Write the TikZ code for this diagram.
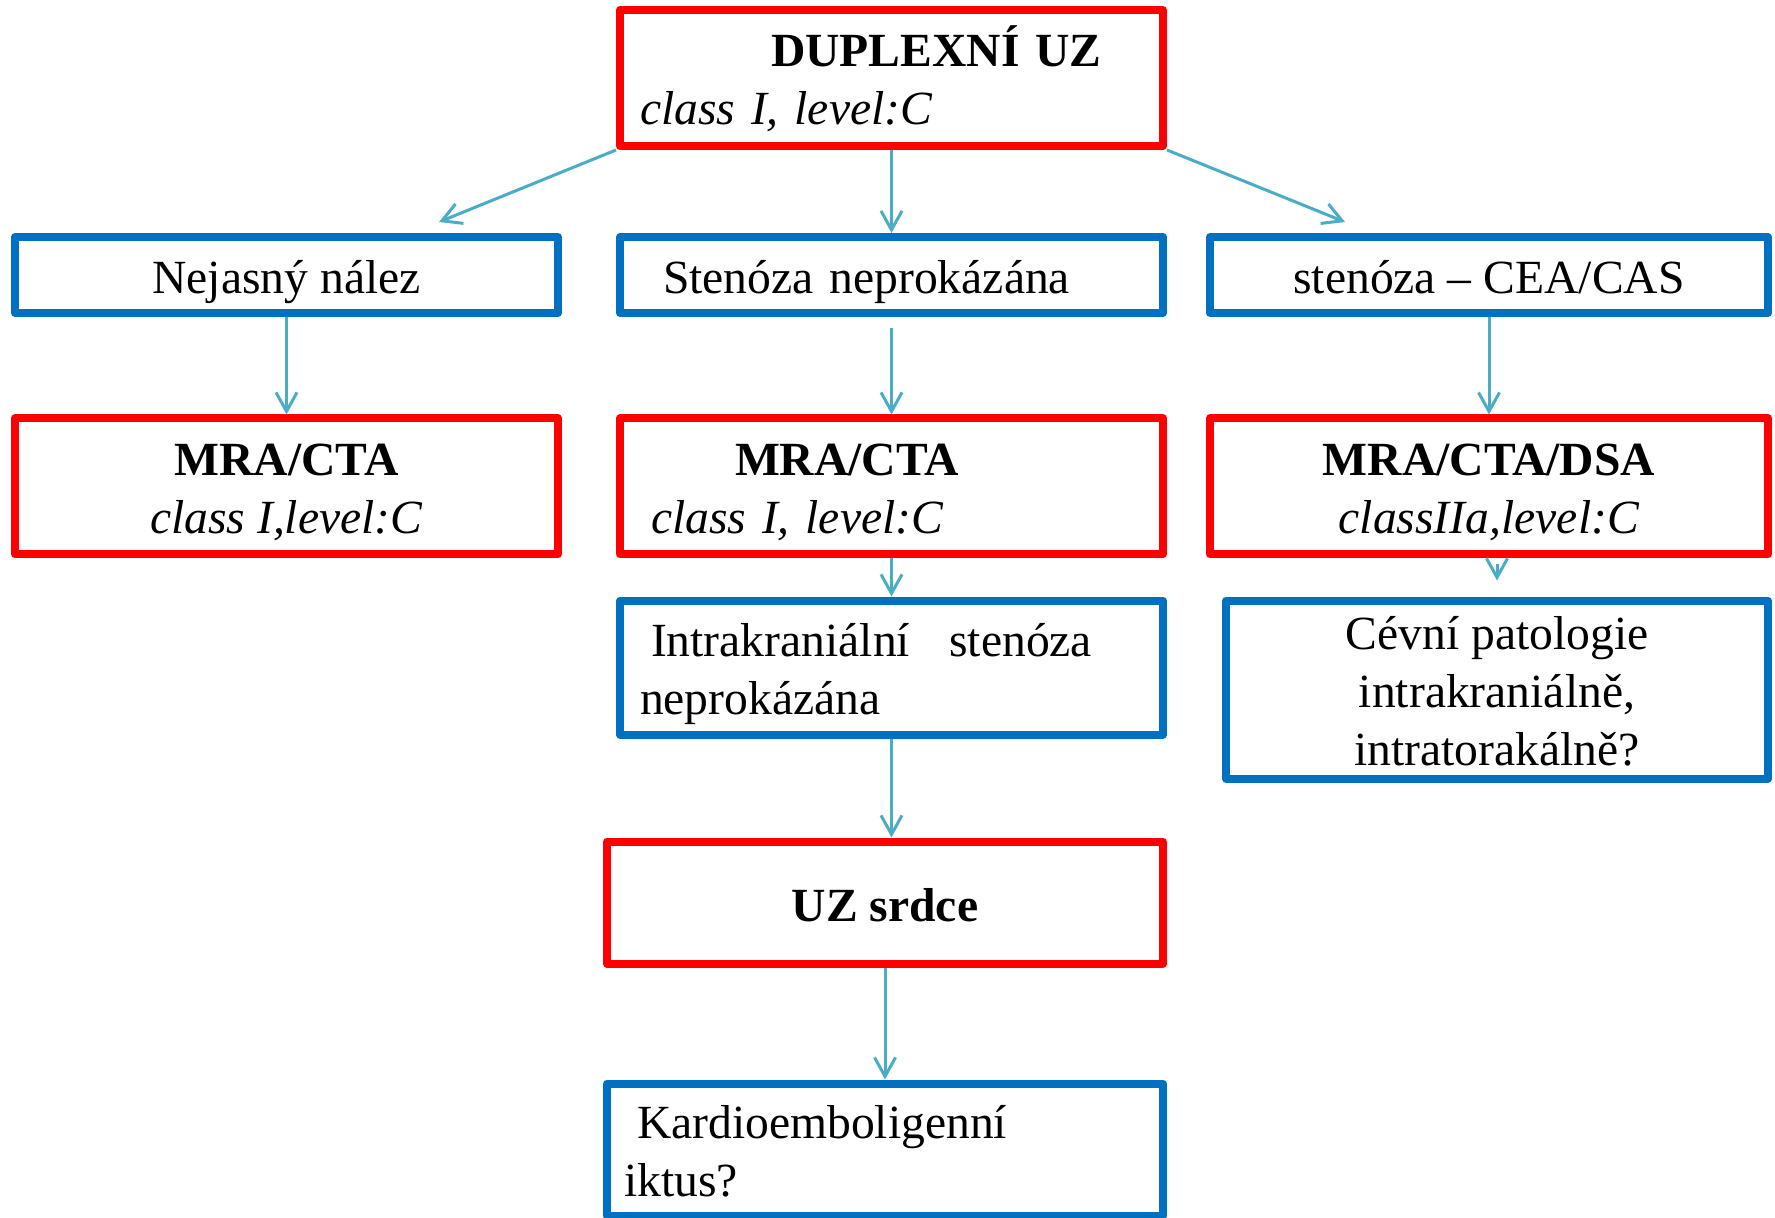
\documentclass[tikz,border=0pt]{standalone}
\usepackage{fontspec}
\setmainfont{Liberation Serif}
\usetikzlibrary{positioning,arrows.meta}
\definecolor{boxred}{HTML}{FF0000}
\definecolor{boxblue}{HTML}{0070C0}
\definecolor{arrowcyan}{HTML}{4BACC6}
\newcommand{\tl}{\rule{0pt}{24pt}}
\newcommand{\bl}{\rule[-6pt]{0pt}{6pt}}

\begin{document}
\begin{tikzpicture}[
    x=0.5pt, y=-0.5pt,
    box/.style={draw, line width=4pt, line join=round, minimum width=271.5pt, minimum height=68pt, inner ysep=0pt, font=\fontsize{23.8}{29}\selectfont, align=center},
    redbox/.style={box, draw=boxred},
    bluebox/.style={box, draw=boxblue},
    onerow/.style={minimum height=38pt, text height=19pt, text depth=0pt},
    arr/.style={draw=arrowcyan, line width=1.5pt, -{Straight Barb[length=9.5pt,width=10.5pt]}},
]
\useasboundingbox (0,0) rectangle (1775,1218);
% first row
\node[redbox, inner xsep=10pt, text width=251.5pt, align=left] (dup) at (891.5,78) {\tl\hspace*{65.5pt}\textbf{DUPLEXNÍ UZ}\\\textit{class I, level:C}\bl};
% second row
\node[bluebox, onerow, below=41.5pt of dup, inner xsep=21.5pt, text width=228.5pt, align=left] (sten) {Stenóza neprokázána};
\node[bluebox, onerow, left=27pt of sten] (nejasny) {Nejasný nález};
\node[bluebox, onerow, minimum width=279pt, right=19.5pt of sten] (cea) {stenóza – CEA/CAS};
% third row
\node[redbox, below=48.75pt of sten, inner xsep=15.5pt, text width=240.5pt, align=left] (mra) {\tl\hspace*{42pt}\textbf{MRA/CTA}\\\textit{class I, level:C}\bl};
\node[redbox, below=48.75pt of nejasny] (mral) {\tl\textbf{MRA/CTA}\\\textit{class I,level:C}\bl};
\node[redbox, minimum width=279pt, below=48.75pt of cea] (mrad) {\tl\textbf{MRA/CTA/DSA}\\\textit{classIIa,level:C}\bl};
% fourth row
\node[bluebox, minimum height=67pt, below=19pt of mra, inner xsep=10pt, text width=251.5pt, align=left] (intra) {\tl\hspace*{5.5pt}\hbox to 220.5pt{Intrakraniální\hfill stenóza}\\neprokázána\bl};
\node[bluebox, minimum width=271pt, minimum height=89pt, below=19pt of mrad, xshift=4pt] (cevni) {\tl Cévní patologie\\intrakraniálně,\\intratorakálně?\bl};
% heart
\node[redbox, onerow, minimum width=278pt, minimum height=61pt, below=49.5pt of intra, xshift=-3.25pt] (srdce) {\textbf{UZ srdce}};
\node[bluebox, minimum height=66pt, below=56pt of srdce, inner xsep=8.5pt, text width=261pt, align=left] (kardio) {\tl\hspace*{6.5pt}Kardioemboligenní\\iktus?\bl};
% arrows
\coordinate (tipl) at (439,222);
\coordinate (tipr) at (1345,222);
\draw[arr] (dup.south west) -- (tipl);
\draw[arr] (dup) -- (sten);
\draw[arr] (dup.south east) -- (tipr);
\draw[arr] (nejasny) -- (mral);
\draw[arr, shorten <=5.5pt] (sten) -- (mra);
\draw[arr] (cea) -- (mrad);
\draw[arr] (mra) -- (intra);
\draw[arr, shorten <=2.75pt, shorten >=8pt] ([xshift=4pt]mrad.south) -- (cevni.north);
\draw[arr] (intra.south) -- (intra.south |- srdce.north);
\draw[arr] (srdce) -- (kardio);
\end{tikzpicture}
\end{document}
